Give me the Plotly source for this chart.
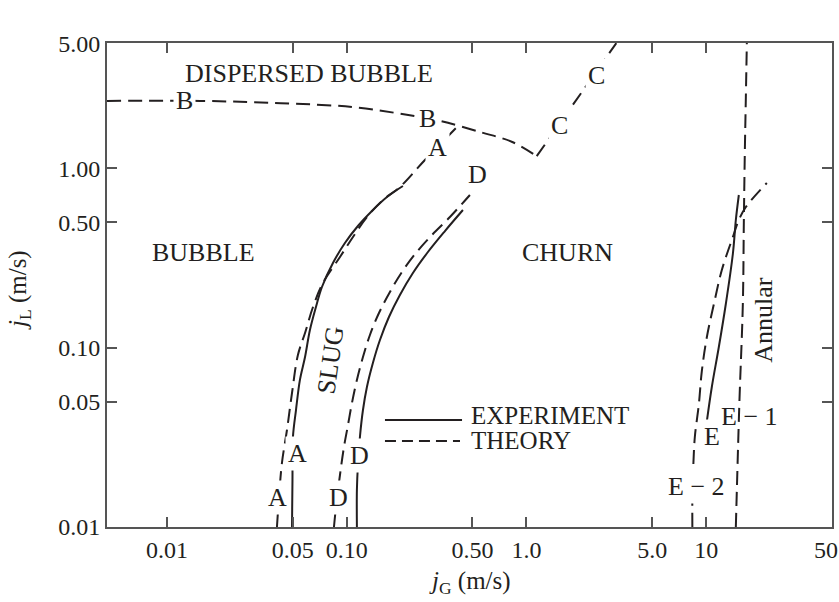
import numpy as np
import plotly.graph_objects as go

# ---------------- data (jG, jL in m/s) ----------------
# B : dispersed-bubble boundary (theory)
b_jg = [0.00464, 0.0153, 0.043, 0.107, 0.22, 0.33, 0.56, 0.84, 1.14]
b_jl = [2.38, 2.38, 2.31, 2.20, 1.985, 1.84, 1.59, 1.40, 1.17]

# C : churn / dispersed boundary (theory)
c_jg = [1.14, 3.16]
c_jl = [1.17, 5.0]

# A : bubble-slug boundary
a_th_jg = [0.0409, 0.0420, 0.0436, 0.0465, 0.0496, 0.0535, 0.0586, 0.0649, 0.0737,
           0.0917, 0.1083, 0.1295, 0.1590, 0.1976, 0.2722, 0.4101]
a_th_jl = [0.0100, 0.0147, 0.02275, 0.03475, 0.0559, 0.0911, 0.1208, 0.1687, 0.2295,
           0.3206, 0.4143, 0.5357, 0.6665, 0.7877, 1.114, 1.702]
a_ex_jg = [0.0496, 0.0499, 0.0502, 0.0522, 0.0549, 0.0586, 0.0624, 0.0674, 0.0728,
           0.0838, 0.0977, 0.1154, 0.1381, 0.1674, 0.2054]
a_ex_jl = [0.0100, 0.0183, 0.0318, 0.0449, 0.0661, 0.0887, 0.1255, 0.1687, 0.2181,
           0.2968, 0.3837, 0.4773, 0.5786, 0.6926, 0.7977]

# D : slug-churn boundary
d_th_jg = [0.0849, 0.0871, 0.0917, 0.0965, 0.1016, 0.1069, 0.1139, 0.1231, 0.1346,
           0.1511, 0.1739, 0.2028, 0.2426, 0.2978, 0.3750, 0.4844]
d_th_jl = [0.0100, 0.01292, 0.0195, 0.02794, 0.03707, 0.04916, 0.0661, 0.0887, 0.1177,
           0.1561, 0.2045, 0.2644, 0.3375, 0.4252, 0.5357, 0.7108]
d_ex_jg = [0.1139, 0.1139, 0.1154, 0.1184, 0.1231, 0.1295, 0.1398, 0.1530, 0.1717,
           0.1976, 0.2334, 0.2829, 0.3518, 0.4430]
d_ex_jl = [0.0100, 0.01608, 0.02217, 0.03177, 0.04494, 0.0604, 0.0822, 0.1104, 0.1483,
           0.1967, 0.2610, 0.3418, 0.4475, 0.5861]

# E : churn-annular boundary
e2_jg = [8.37, 8.37, 8.42, 8.48, 8.64, 9.10, 9.45, 10.08, 11.03, 12.21, 14.06, 15.18, 16.61, 21.73]
e2_jl = [0.0100, 0.01452, 0.01829, 0.02246, 0.03177, 0.04853, 0.0741, 0.1147, 0.1753,
         0.2713, 0.4143, 0.5155, 0.6092, 0.8291]
e1_jg = [14.61, 15.28, 15.98, 16.19, 16.40, 16.61, 16.82]
e1_jl = [0.0100, 0.04853, 0.1753, 0.5155, 1.266, 2.502, 5.0]
e_ex_jg = [10.08, 10.74, 11.75, 12.85, 14.06, 14.61, 15.18]
e_ex_jl = [0.0390, 0.0604, 0.1009, 0.1753, 0.3332, 0.5155, 0.7108]

x_tickvals = [0.01, 0.05, 0.1, 0.5, 1.0, 5.0, 10, 50]
x_ticktext = ["0.01", "0.05", "0.10", "0.50", "1.0", "5.0", "10", "50\u00a0\u00a0"]
y_tickvals = [0.01, 0.05, 0.1, 0.5, 1.0, 5.0]
y_ticktext = ["0.01", "0.05", "0.10", "0.50", "1.00", "5.00"]

# curve labels: (text, jG, jL, textangle, bg)
labels = [
    ("DISPERSED BUBBLE", 0.0616, 3.40, 0, False),
    ("BUBBLE", 0.01606, 0.3418, 0, False),
    ("CHURN", 1.699, 0.3418, 0, False),
    ("SLUG", 0.0807, 0.0854, -82, False),
    ("Annular", 20.64, 0.1427, -90, False),
    ("B", 0.01259, 2.38, 0, True),
    ("B", 0.2829, 1.91, 0, True),
    ("A", 0.3215, 1.30, 0, True),
    ("D", 0.5366, 0.919, 0, True),
    ("C", 1.534, 1.746, 0, True),
    ("C", 2.464, 3.318, 0, True),
    ("A", 0.0535, 0.02586, 0, True),
    ("A", 0.0414, 0.0147, 0, True),
    ("D", 0.1184, 0.02521, 0, True),
    ("D", 0.0905, 0.0147, 0, True),
    ("E \u2212 1", 17.48, 0.04108, 0, False),
    ("E", 10.74, 0.03177, 0, True),
    ("E \u2212 2", 8.87, 0.01693, 0, True),
]

INK = "#231f20"
FONT = "Liberation Serif, Times New Roman, serif"
DASH = "14px,7px"

fig = go.Figure()

def add_line(xs, ys, dashed, shape="spline"):
    fig.add_trace(go.Scatter(
        x=xs, y=ys, mode="lines", showlegend=False, hoverinfo="skip",
        line=dict(color=INK, width=2, dash=DASH if dashed else "solid",
                  shape=shape, smoothing=1.0 if shape == "spline" else None)))

add_line(b_jg, b_jl, True)
add_line(c_jg, c_jl, True, shape="linear")
add_line(a_th_jg, a_th_jl, True)
add_line(a_ex_jg, a_ex_jl, False)
add_line(d_th_jg, d_th_jl, True)
add_line(d_ex_jg, d_ex_jl, False)
add_line(e2_jg, e2_jl, True)
add_line(e1_jg, e1_jl, True)
add_line(e_ex_jg, e_ex_jl, False)

annotations = []
for text, xv, yv, ang, bg in labels:
    annotations.append(dict(
        x=np.log10(xv), y=np.log10(yv), xref="x", yref="y", text=text,
        showarrow=False, textangle=ang,
        font=dict(family=FONT, size=26, color=INK),
        bgcolor="white" if bg else None, borderpad=2))

# legend texts
annotations += [
    dict(x=0.5007, y=0.2314, xref="paper", yref="paper", text="EXPERIMENT",
         xanchor="left", yanchor="middle", showarrow=False, borderpad=0,
         font=dict(family=FONT, size=25, color=INK)),
    dict(x=0.5007, y=0.1777, xref="paper", yref="paper", text="THEORY",
         xanchor="left", yanchor="middle", showarrow=False, borderpad=0,
         font=dict(family=FONT, size=25, color=INK)),
    # axis titles
    dict(x=0.5007, y=-0.1157, xref="paper", yref="paper",
         xanchor="center", yanchor="middle",
         text="<i>j</i><sub>G</sub> (m/s)", showarrow=False,
         font=dict(family=FONT, size=25, color=INK)),
    dict(x=-0.1200, y=0.4897, xref="paper", yref="paper", textangle=-90,
         xanchor="center", yanchor="middle",
         text="<i>j</i><sub>L</sub> (m/s)", showarrow=False,
         font=dict(family=FONT, size=25, color=INK)),
]

shapes = [
    dict(type="line", xref="paper", yref="paper", x0=0.3834, x1=0.4897, y0=0.2211, y1=0.2211,
         line=dict(color=INK, width=2)),
    dict(type="line", xref="paper", yref="paper", x0=0.3834, x1=0.4869, y0=0.1777, y1=0.1777,
         line=dict(color=INK, width=2, dash="11px,6px")),
]

axis_common = dict(
    type="log", showgrid=False, zeroline=False, showline=True, mirror="ticks",
    linecolor="#555555", linewidth=2, ticks="inside", ticklen=10, tickwidth=1.5,
    tickcolor="#555555", tickfont=dict(family=FONT, size=24, color=INK),
    ticklabeloverflow="allow", automargin=False,
)

fig.update_layout(
    width=839, height=602,
    margin=dict(l=107, r=7, t=43, b=75, autoexpand=False),
    paper_bgcolor="white", plot_bgcolor="white",
    xaxis=dict(range=[-2.3337, 1.6996], tickvals=x_tickvals, ticktext=x_ticktext, **axis_common),
    yaxis=dict(range=[-2.0, 0.6995], tickvals=y_tickvals, ticktext=y_ticktext, **axis_common),
    annotations=annotations, shapes=shapes, showlegend=False,
)

fig.write_html("out.html")
